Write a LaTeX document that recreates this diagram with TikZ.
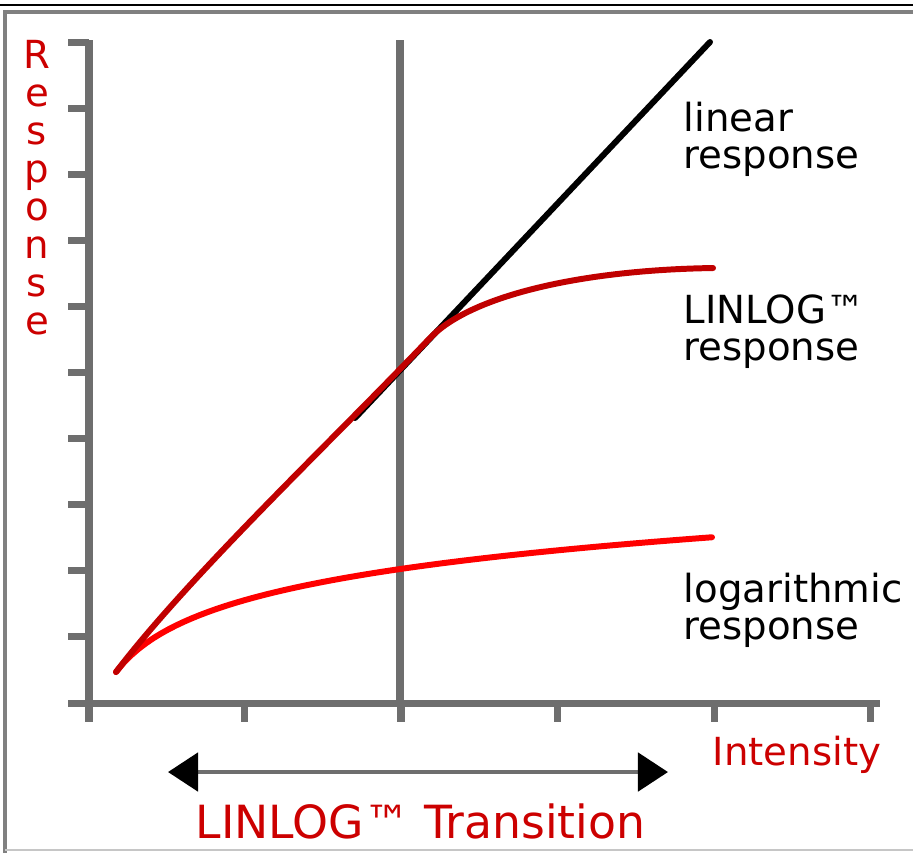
\documentclass[tikz,border=0pt]{standalone}
\usepackage{fontspec}
\setmainfont{DejaVu Sans}
\usetikzlibrary{arrows.meta,positioning}
\definecolor{axisgray}{HTML}{6E6E6E}
\definecolor{framegray}{HTML}{808080}
\definecolor{linlogred}{HTML}{C00000}
\definecolor{logred}{HTML}{FF0000}
\definecolor{labelred}{HTML}{CC0000}
\tikzset{
  axisline/.style={axisgray,line width=2pt},
  curve/.style={line width=1.7pt,line cap=round},
  blacklabel/.style={anchor=north west,inner sep=0pt,align=left,font=\fontsize{11}{10.5}\selectfont},
  redlabel/.style={inner sep=0pt,text=labelred,font=\fontsize{11}{13}\selectfont},
}

\begin{document}
\begin{tikzpicture}[x=0.01cm,y=-0.01cm]
    \useasboundingbox (0,0) rectangle (913,853);
    \draw[black,line width=0.7pt] (0,5)--(913,5);
    \draw[framegray,line width=1pt] (5,853)--(5,12)--(913,12);
    \draw[gray!45,line width=0.4pt] (5,850)--(913,850);
    \draw[axisline] (89,40)--(89,722);
    \draw[axisline] (68,703)--(880,703);
    \foreach \k in {0,...,9}
        \draw[axisline] (68,{42+66.1*\k})--(89,{42+66.1*\k});
    \foreach \k in {1,...,5}
        \draw[axisline] ({88+156.5*\k},703)--({88+156.5*\k},722);
    \draw[axisline] (400,40)--(400,703);
    \coordinate (start) at (116,672);
    \coordinate (bend) at (430,338);
    \draw[curve,logred] plot[domain=0:596,samples=80] ({116+\x},{672-46.6*ln(1+\x/35)});
    \draw[curve,black] (355,418)--(710,42);
    \draw[curve,linlogred] (start) .. controls (190,575) and (330,443) .. (bend)
        .. controls (470,296) and (580,270) .. (713,268);
    \node[blacklabel] (linearlabel) at (683,101) {linear\\response};
    \node[blacklabel] (linloglabel) at (683,294) {LINLOG™\\response};
    \node[blacklabel] (loglabel) at (683,572) {logarithmic\\response};
    \node[redlabel,anchor=north,align=center,font=\fontsize{11}{10.8}\selectfont] (ylabel) at (37,40) {R\\e\\s\\p\\o\\n\\s\\e};
    \node[redlabel,anchor=base west] (xlabel) at (712,765) {Intensity};
    \coordinate (tleft) at (168,772);
    \coordinate (tright) at (668,772);
    \draw[axisgray,line width=1.4pt,{Triangle[length=0.30cm,width=0.38cm,color=black]}-{Triangle[length=0.30cm,width=0.38cm,color=black]}] (tleft)--(tright);
    \node[redlabel,anchor=base west,font=\fontsize{13}{15}\selectfont] (translabel) at (195,838) {LINLOG™ Transition};
\end{tikzpicture}
\end{document}
